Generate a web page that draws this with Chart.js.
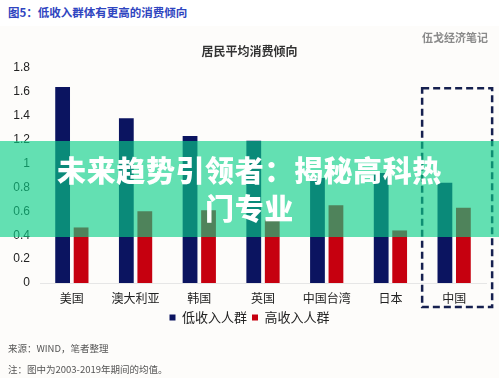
<!DOCTYPE html>
<html>
<head>
<meta charset="utf-8">
<script src="https://cdn.jsdelivr.net/npm/chart.js@4.4.1/dist/chart.umd.min.js"></script>
<style>
  html, body { margin: 0; padding: 0; background: #ffffff; }
  #wrap { position: relative; width: 499px; height: 378px; overflow: hidden; background: #fdfcfa;
          font-family: 'Noto Sans CJK SC', 'Liberation Sans', sans-serif; }
  #hdr { position: absolute; left: 0; top: 0; width: 499px; height: 26px; background: #ffffff; }
  #fig { position: absolute; left: 8px; top: 4px; font-size: 11.5px; font-weight: bold; color: #2f45c0; white-space: nowrap; }
  #ctitle { position: absolute; left: 0; width: 499px; top: 42px; text-align: center; font-size: 12px; font-weight: bold; color: #333; }
  #brand { position: absolute; left: 422px; top: 29px; font-size: 11px; font-weight: bold; color: #8a8a8a; white-space: nowrap; }
  #src { position: absolute; left: 8px; top: 341px; font-size: 9.5px; color: #555; white-space: nowrap; }
  #note { position: absolute; left: 8px; top: 362px; font-size: 9.5px; color: #555; white-space: nowrap; }
  #chart { position: absolute; left: 0; top: 0; }
  #banner { position: absolute; left: 0; top: 141px; width: 499px; height: 96px; background: rgba(10,208,137,0.63);
            color: #ffffff; text-align: center; font-weight: 900; font-size: 29px; letter-spacing: 0.6px; line-height: 38px; z-index: 5; }
  #banner div { padding-top: 9px; }
</style>
</head>
<body>
<div id="wrap">
  <div id="hdr"></div>
  <div id="fig">图5：低收入群体有更高的消费倾向</div>
  <canvas id="chart" width="499" height="378"></canvas>
  <div id="ctitle">居民平均消费倾向</div>
  <div id="brand">伍戈经济笔记</div>
  <div id="src">来源：WIND，笔者整理</div>
  <div id="note">注：图中为2003-2019年期间的均值。</div>
  <div id="banner"><div>未来趋势引领者：揭秘高科热<br>门专业</div></div>
</div>
<script>
const categories = ['美国', '澳大利亚', '韩国', '英国', '中国台湾', '日本', '中国'];
const lowIncome  = [1.64, 1.38, 1.23, 1.19, 0.88, 0.92, 0.84];
const highIncome = [0.465, 0.60, 0.61, 0.53, 0.65, 0.44, 0.63];
const yTicks = [0, 0.2, 0.4, 0.6, 0.8, 1, 1.2, 1.4, 1.6, 1.8];
const seriesNames = ['低收入人群', '高收入人群'];
const highlightIndex = 6;
const highlightTopValue = 1.63;

Chart.defaults.font.family = "'Liberation Sans', 'Noto Sans CJK SC', sans-serif";
Chart.defaults.color = '#222';

const boxPlugin = {
  id: 'highlightBox',
  afterDatasetsDraw(chart) {
    const x = chart.scales.x, y = chart.scales.y;
    const cx = x.getPixelForValue(highlightIndex);
    const left = cx - 32, right = cx + 38;
    const top = y.getPixelForValue(highlightTopValue);
    const bottom = chart.chartArea.bottom + 24;
    const ctx = chart.ctx;
    ctx.save();
    ctx.strokeStyle = '#16204f';
    ctx.lineWidth = 2.5;
    ctx.setLineDash([7, 4]);
    ctx.strokeRect(left, top, right - left, bottom - top);
    ctx.restore();
  }
};

new Chart(document.getElementById('chart'), {
  type: 'bar',
  data: {
    labels: categories,
    datasets: [
      { label: seriesNames[0], data: lowIncome, backgroundColor: '#0b1460' },
      { label: seriesNames[1], data: highIncome, backgroundColor: '#c6000f' }
    ]
  },
  options: {
    responsive: false,
    animation: false,
    events: [],
    datasets: { bar: { categoryPercentage: 0.58, barPercentage: 0.8 } },
    layout: { padding: { top: 68, left: 13, right: 13, bottom: 44 } },
    plugins: {
      title: { display: false },
      tooltip: { enabled: false },
      legend: {
        position: 'bottom',
        labels: {
          boxWidth: 6, boxHeight: 6, padding: 5,
          font: { size: 13, family: "'Noto Sans CJK SC', sans-serif" },
          color: '#222'
        }
      }
    },
    scales: {
      x: {
        grid: { display: false, drawTicks: false },
        border: { color: '#e6e6e6', width: 1 },
        ticks: { padding: 8, font: { size: 12, family: "'Noto Sans CJK SC', sans-serif" }, color: '#222', maxRotation: 0, autoSkip: false },
        afterFit(s) { s.height = 23; }
      },
      y: {
        min: 0, max: 1.8,
        afterBuildTicks(s) { s.ticks = yTicks.map(v => ({ value: v })); },
        grid: { display: false, drawTicks: false },
        border: { display: false },
        ticks: { padding: 10, font: { size: 12 }, color: '#222', callback: v => String(v) },
        afterFit(s) { s.width = 27; }
      }
    }
  },
  plugins: [boxPlugin]
});
</script>
</body>
</html>
